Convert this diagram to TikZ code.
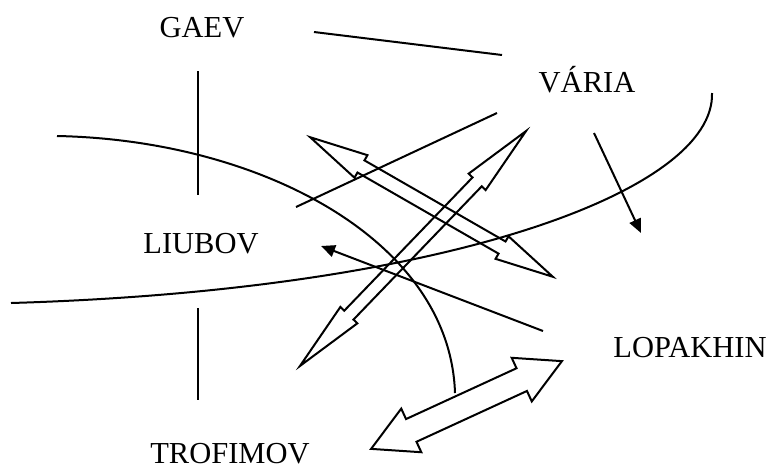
\documentclass[tikz,border=0pt]{standalone}
\usepackage{fontspec}
\setmainfont{Liberation Serif}
\usetikzlibrary{arrows.meta,shapes.arrows}

\begin{document}
\begin{tikzpicture}[>={Triangle[length=7pt,width=6pt]},x=.5pt,y=-.5pt,line width=1pt,
  who/.style={font=\fontsize{15.25}{18}\selectfont,anchor=base,inner sep=0pt},
  twoway/.style={double arrow,draw,line width=1pt,inner xsep=0pt,inner ysep=#1,double arrow head extend=#1}]
\useasboundingbox (0,0) rectangle (769,472);
% the five names
\node[who] (gaev) at (202,37) {GAEV};
\node[who] (varia) at (587,92) {VÁRIA};
\node[who] (liubov) at (201,253) {LIUBOV};
\node[who] (lopakhin) at (690,357) {LOPAKHIN};
\node[who] (trofimov) at (230,463) {TROFIMOV};
% free ends of the strokes
\coordinate (g1) at (314,32);  \coordinate (g2) at (502,55);
\coordinate (t1) at (198,71);  \coordinate (t2) at (198,195);
\coordinate (b1) at (198,308); \coordinate (b2) at (198,400);
\coordinate (a1) at (57,136);  \coordinate (a2) at (455,393);
\coordinate (c1) at (11,303);  \coordinate (c2) at (712,93);
\coordinate (s1) at (296,207); \coordinate (s2) at (497,113);
\coordinate (l1) at (543,331); \coordinate (l2) at (321,246);
\coordinate (v1) at (594,133); \coordinate (v2) at (641,233);
\draw (g1)--(g2);
\draw (t1)--(t2);
\draw (b1)--(b2);
\draw (a1) .. controls (260,140) and (450,240) .. (a2);
\draw (c1) .. controls (450,290) and (715,190) .. (c2);
\draw (s1)--(s2);
\draw[->] (l1)--(l2);
\draw[->] (v1)--(v2);
% hollow double arrows
\node[twoway=3pt,minimum height=140pt,double arrow tip angle=25,rotate=-29.9] (x1) at (431.5,207) {};
\node[twoway=2.7pt,minimum height=163pt,double arrow tip angle=19,rotate=46.1] (x2) at (413,248.5) {};
\node[twoway=5.75pt,minimum height=105pt,double arrow tip angle=57,rotate=24.7] (x3) at (466.5,405) {};
\end{tikzpicture}
\end{document}
